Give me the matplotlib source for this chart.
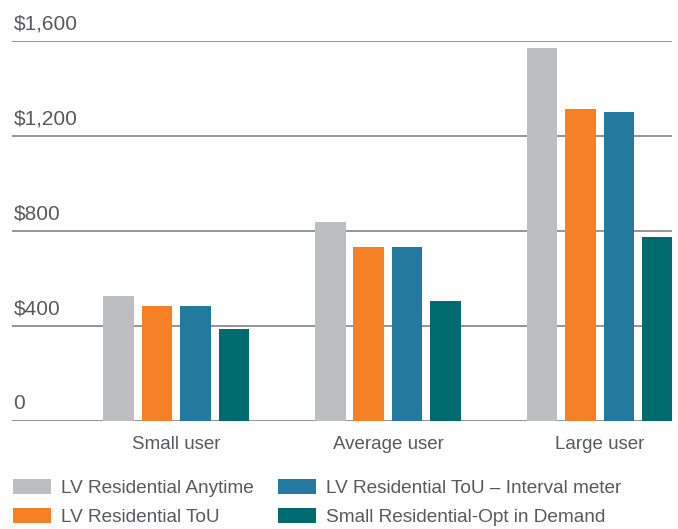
import matplotlib
matplotlib.use("Agg")
import matplotlib.pyplot as plt
import numpy as np
from matplotlib.transforms import blended_transform_factory

plt.rcParams["font.family"] = ["Liberation Sans", "DejaVu Sans"]

categories = ["Small user", "Average user", "Large user"]
series = ["LV Residential Anytime", "LV Residential ToU",
          "LV Residential ToU \u2013 Interval meter", "Small Residential-Opt in Demand"]
anytime = [527, 839, 1572]
tou = [484, 731, 1312]
tou_interval = [484, 731, 1302]
opt_demand = [387, 506, 776]
yticks = [0, 400, 800, 1200, 1600]
ytick_labels = ["0", "$400", "$800", "$1,200", "$1,600"]

colors = ["#BDBEC0", "#F58026", "#237A9E", "#006B6E"]
TXT = "#58595B"

fig = plt.figure(figsize=(6.78, 5.29), dpi=100)
ax = fig.add_axes([12 / 678, 1 - 421 / 529, 660 / 678, 380 / 529])

x = np.arange(len(categories))
w, step = 0.144, 0.1816
for i, (vals, name) in enumerate(zip([anytime, tou, tou_interval, opt_demand], series)):
    ax.bar(x + (i - 1.5) * step, vals, w, color=colors[i], label=name, zorder=3)

# horizontal rules with the dollar labels sitting just above them
for v in yticks:
    ax.axhline(v, color="#8c8c8c", lw=1.3, zorder=1)
trans = blended_transform_factory(ax.transAxes, ax.transData)
for v, lab in zip(yticks, ytick_labels):
    ax.annotate(lab, (0.002, v), xycoords=trans, xytext=(0, 8.6), textcoords="offset points",
                ha="left", va="baseline", fontsize=15, color=TXT)

ax.set_xlim(-0.774, 2.34)
ax.set_ylim(0, 1600)
ax.set_yticks([])
ax.set_xticks(x)
ax.set_xticklabels(categories, fontsize=13.5, color=TXT)
ax.tick_params(axis="x", length=0, pad=11)
for s in ax.spines.values():
    s.set_visible(False)

fig.legend(loc="upper left", bbox_to_anchor=(5 / 678, 1 - 471 / 529), ncol=2, frameon=False,
           fontsize=13.7, labelcolor=TXT, handlelength=2.0, handleheight=0.85,
           handletextpad=0.53, columnspacing=1.3, labelspacing=0.58, borderaxespad=0)

fig.savefig("out.png", dpi=100)
